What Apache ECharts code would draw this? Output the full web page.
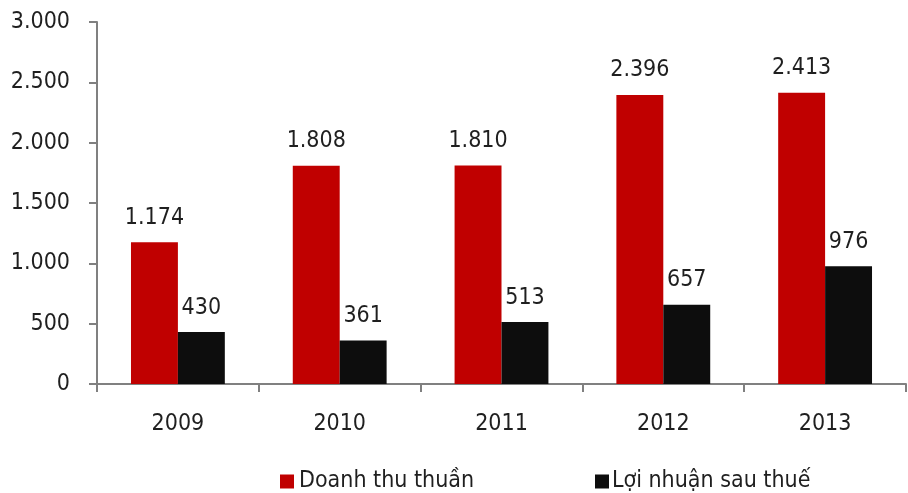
<!DOCTYPE html>
<html>
<head>
<meta charset="utf-8">
<script src="https://cdn.jsdelivr.net/npm/echarts@6/dist/echarts.min.js"></script>
<style>html,body{margin:0;padding:0;background:#fff}#c{width:908px;height:493px}</style>
</head>
<body>
<div id="c"></div>
<script>
const categories = ['2009', '2010', '2011', '2012', '2013'];
const seriesNames = ['Doanh thu thuần', 'Lợi nhuận sau thuế'];
const revenue = [1174, 1808, 1810, 2396, 2413];
const profit = [430, 361, 513, 657, 976];
const yTicks = [0, 500, 1000, 1500, 2000, 2500, 3000];

function fmt(v) {
  return String(v).replace(/\B(?=(\d{3})+(?!\d))/g, '.');
}
const FONT = '"DejaVu Sans Condensed", "DejaVu Sans"';
const TXT = '#1f1f1f';
const FS = 23;
const chart = echarts.init(document.getElementById('c'));
chart.setOption({
  animation: false,
  backgroundColor: '#ffffff',
  textStyle: { fontFamily: FONT },
  grid: { left: 97, right: 2, top: 22, bottom: 109, containLabel: false },
  legend: [
    { data: [seriesNames[0]], left: 280, top: 470, padding: 0, itemWidth: 14, itemHeight: 14, icon: 'rect',
      textStyle: { fontFamily: FONT, fontSize: FS, color: TXT } },
    { data: [seriesNames[1]], left: 595, top: 470, padding: 0, itemWidth: 14, itemHeight: 14, icon: 'rect',
      textStyle: { fontFamily: FONT, fontSize: FS, color: TXT, padding: [0, 0, 0, -2] } }
  ],
  xAxis: {
    type: 'category',
    data: categories,
    axisLine: { lineStyle: { color: '#808080', width: 2 } },
    axisTick: { show: true, length: 8, alignWithLabel: false, lineStyle: { color: '#808080', width: 2 } },
    axisLabel: { fontFamily: FONT, fontSize: FS, color: TXT, margin: 29 }
  },
  yAxis: {
    type: 'value',
    min: yTicks[0], max: yTicks[yTicks.length - 1], interval: 500,
    axisLine: { show: true, lineStyle: { color: '#808080', width: 2 } },
    axisTick: { show: true, length: 8, lineStyle: { color: '#808080', width: 2 } },
    splitLine: { show: false },
    axisLabel: { fontFamily: FONT, fontSize: FS, color: TXT, margin: 27, formatter: v => fmt(v) }
  },
  series: [
    { name: seriesNames[0], type: 'bar', data: revenue, barGap: '0%', barCategoryGap: '42%',
      itemStyle: { color: '#c00000' },
      label: { show: true, position: 'top', distance: 13, fontFamily: FONT, fontSize: FS, color: TXT, formatter: p => fmt(p.value) } },
    { name: seriesNames[1], type: 'bar', data: profit, barGap: '0%', barCategoryGap: '42%',
      itemStyle: { color: '#0d0d0d' },
      label: { show: true, position: 'top', distance: 13, fontFamily: FONT, fontSize: FS, color: TXT, formatter: p => fmt(p.value) } }
  ]
});
</script>
</body>
</html>
